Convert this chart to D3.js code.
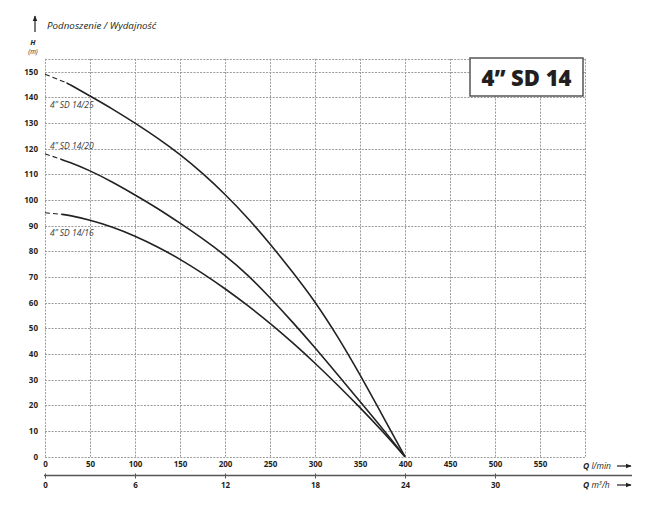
<!DOCTYPE html>
<html>
<head>
<meta charset="utf-8">
<script src="https://cdn.jsdelivr.net/npm/d3@7"></script>
<style>
  body { margin: 0; background: #fff; }
  svg { display: block; font-family: "Open Sans", sans-serif; }
</style>
</head>
<body>
<div id="chart"></div>
<script>
// Pump curves 4" SD 14 – head H (m) vs flow Q (l/min)

const flowQ = [0, 25, 50, 75, 100, 125, 150, 175, 200, 225, 250, 275, 300, 325, 350, 375, 400];
const models = ["4\u201D SD 14/25", "4\u201D SD 14/20", "4\u201D SD 14/16"];
const head25 = [149, 145.5, 140.5, 135.5, 130, 124.2, 117.8, 110.5, 102.3, 93.2, 83, 72, 60.5, 47, 32, 16, 0];
const head20 = [118, 115, 111.5, 107, 102, 96.8, 91, 85, 78.5, 71, 62, 52.5, 42.5, 32, 21.5, 11, 0];
const head16 = [95, 94.2, 92.2, 89.5, 86, 81.8, 77, 71.5, 65.5, 59, 52, 44.5, 36.5, 28, 19.2, 9.9, 0];
const dashEnd = [24, 17, 18]; // Q where the dashed start of each curve ends
const labelH = [137, 121, 87];   // H where each curve label sits

const qTicks = [0, 50, 100, 150, 200, 250, 300, 350, 400, 450, 500, 550];
const m3Ticks = [0, 6, 12, 18, 24, 30];
const hTicks = [0, 10, 20, 30, 40, 50, 60, 70, 80, 90, 100, 110, 120, 130, 140, 150];

const colorText = "#231f20", colorGrid = "#9b9b9b", colorCurve = "#222";

const width = 671, height = 506;
const x = d3.scaleLinear().domain([0, 600]).range([45, 585]);
const xm3 = d3.scaleLinear().domain([0, 36]).range([45, 585]);
const y = d3.scaleLinear().domain([0, 155]).range([456.7, 58.8]);

const svg = d3.select("#chart").append("svg")
    .attr("width", width).attr("height", height)
    .attr("viewBox", [0, 0, width, height]);

// arrow marker
svg.append("defs").append("marker")
    .attr("id", "arr").attr("viewBox", "0 0 10 10")
    .attr("refX", 9).attr("refY", 5)
    .attr("markerWidth", 5).attr("markerHeight", 5)
    .attr("orient", "auto-start-reverse")
  .append("path").attr("d", "M0,1 L10,5 L0,9 Z").attr("fill", colorText);

// Grid
const grid = svg.append("g")
    .attr("stroke", colorGrid).attr("stroke-width", 1)
    .attr("stroke-dasharray", "2,1.3");
grid.selectAll(".v").data(d3.range(0, 601, 50)).join("line")
    .attr("x1", d => Math.round(x(d)) + 0.5).attr("x2", d => Math.round(x(d)) + 0.5)
    .attr("y1", y(155)).attr("y2", y(0));
grid.selectAll(".h").data(hTicks.concat([155])).join("line")
    .attr("y1", d => Math.round(y(d)) + 0.5).attr("y2", d => Math.round(y(d)) + 0.5)
    .attr("x1", x(0)).attr("x2", x(600));

// Y axis labels
svg.append("g")
    .attr("transform", `translate(${x(0)},0)`)
    .call(d3.axisLeft(y).tickValues(hTicks).tickSize(0).tickPadding(7))
    .call(g => g.select(".domain").remove())
    .call(g => g.selectAll("text")
        .attr("font-family", "Open Sans").attr("font-size", 8)
        .attr("font-weight", "bold").attr("fill", colorText));

// X axis (l/min)
svg.append("g")
    .attr("transform", `translate(0,${y(0)})`)
    .call(d3.axisBottom(x).tickValues(qTicks).tickSize(0).tickPadding(5))
    .call(g => g.select(".domain").remove())
    .call(g => g.selectAll("text")
        .attr("font-family", "Open Sans").attr("font-size", 8)
        .attr("font-weight", "bold").attr("fill", colorText));

// X axis (m3/h)
svg.append("line")
    .attr("x1", 44).attr("x2", 632).attr("y1", 475.5).attr("y2", 475.5)
    .attr("stroke", "#555").attr("stroke-width", 1.4);
svg.append("g")
    .attr("transform", "translate(0,475.5)")
    .call(d3.axisBottom(xm3).tickValues(m3Ticks).tickSize(3).tickPadding(4))
    .call(g => g.select(".domain").remove())
    .call(g => g.selectAll(".tick line").attr("y1", -2).attr("stroke", "#555"))
    .call(g => g.selectAll("text")
        .attr("font-family", "Open Sans").attr("font-size", 8)
        .attr("font-weight", "bold").attr("fill", colorText));

// Axis titles
const qLabel = (yy, unit, sup) => {
  const t = svg.append("text").attr("x", 583).attr("y", yy)
      .attr("font-size", 8.5).attr("font-style", "italic").attr("fill", colorText);
  t.append("tspan").attr("font-weight", "bold").text("Q ");
  t.append("tspan").text(unit);
  if (sup) {
    t.append("tspan").attr("font-size", 5.5).attr("dy", -3).text(sup);
    t.append("tspan").attr("dy", 3).text("/h");
  }
  svg.append("line").attr("x1", 617).attr("x2", 631).attr("y1", yy - 3).attr("y2", yy - 3)
      .attr("stroke", colorText).attr("stroke-width", 1.2).attr("marker-end", "url(#arr)");
};
qLabel(469, "l/min");
qLabel(488, "m", "3");

svg.append("line").attr("x1", 35).attr("x2", 35).attr("y1", 32).attr("y2", 16)
    .attr("stroke", colorText).attr("stroke-width", 1.2).attr("marker-end", "url(#arr)");
svg.append("text").attr("x", 47).attr("y", 28.5)
    .attr("font-size", 9.8).attr("font-style", "italic").attr("fill", colorText)
    .text("Podnoszenie / Wydajność");
svg.append("text").attr("x", 33).attr("y", 45).attr("text-anchor", "middle")
    .attr("font-size", 7.5).attr("font-style", "italic").attr("font-weight", "bold")
    .attr("fill", colorText).text("H");
svg.append("text").attr("x", 33).attr("y", 54).attr("text-anchor", "middle")
    .attr("font-size", 6.5).attr("font-style", "italic").attr("fill", colorText).text("(m)");

// Curves
const heads = [head25, head20, head16];
const line = d3.line().x(d => x(d.q)).y(d => y(d.h)).curve(d3.curveBasis);
heads.forEach((hs, i) => {
  const pts = flowQ.map((q, j) => ({q, h: hs[j]}));
  const interp = q => {
    const j = d3.bisectRight(flowQ, q) - 1;
    const t = (q - flowQ[j]) / (flowQ[j + 1] - flowQ[j]);
    return hs[j] + t * (hs[j + 1] - hs[j]);
  };
  const cut = {q: dashEnd[i], h: interp(dashEnd[i])};
  const dashed = [pts[0], cut];
  const solid = [cut].concat(pts.filter(p => p.q > dashEnd[i]));
  svg.append("path").datum(dashed).attr("d", line)
      .attr("fill", "none").attr("stroke", colorCurve).attr("stroke-width", 1.1)
      .attr("stroke-dasharray", "5,3");
  svg.append("path").datum(solid).attr("d", line)
      .attr("fill", "none").attr("stroke", colorCurve).attr("stroke-width", 1.6);
  svg.append("text").attr("x", 50).attr("y", y(labelH[i]) + 3)
      .attr("font-size", 8.5).attr("font-style", "italic").attr("fill", "#3a3a3a")
      .text(models[i]);
});

// Title box
svg.append("rect").attr("x", 470).attr("y", 58).attr("width", 113).attr("height", 38)
    .attr("fill", "#fff").attr("stroke", "#555").attr("stroke-width", 1.5);
svg.append("text").attr("x", 526.5).attr("y", 85.5).attr("text-anchor", "middle")
    .attr("font-size", 22).attr("font-weight", 800).attr("fill", colorText)
    .text("4\u201D SD 14");
</script>
</body>
</html>
